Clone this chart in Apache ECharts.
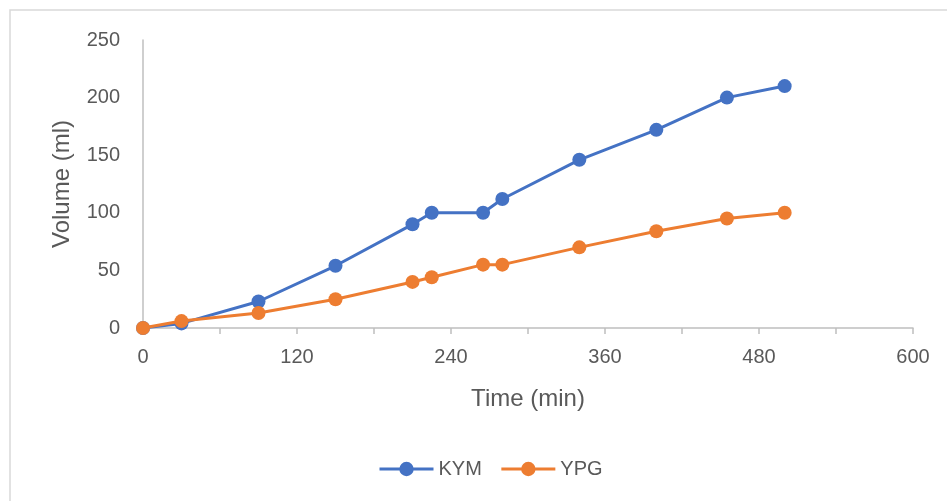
<!DOCTYPE html>
<html>
<head>
<meta charset="utf-8">
<script src="https://cdn.jsdelivr.net/npm/echarts@6/dist/echarts.min.js"></script>
<style>html,body{margin:0;padding:0;background:#fff}#c{width:947px;height:501px}</style>
</head>
<body>
<div id="c"></div>
<script>
const timeKYM = [0, 30, 90, 150, 210, 225, 265, 280, 340, 400, 455, 500];
const volKYM  = [0, 4, 23, 54, 90, 100, 100, 112, 146, 172, 200, 210];
const timeYPG = [0, 30, 90, 150, 210, 225, 265, 280, 340, 400, 455, 500];
const volYPG  = [0, 6, 13, 25, 40, 44, 55, 55, 70, 84, 95, 100];
const seriesNames = ['KYM', 'YPG'];
const xTicks = [0, 120, 240, 360, 480, 600];
const yTicks = [0, 50, 100, 150, 200, 250];

const font = 'Liberation Sans, sans-serif';
const txt = '#595959';
const pair = (xs, ys) => xs.map((x, i) => [x, ys[i]]);

const chart = echarts.init(document.getElementById('c'), null, {renderer: 'canvas'});
chart.setOption({
  animation: false,
  backgroundColor: '#fff',
  graphic: [{
    type: 'rect', shape: {x: 10, y: 10, width: 960, height: 520},
    style: {fill: 'none', stroke: '#d9d9d9', lineWidth: 1.5}, silent: true, z: -1
  }],
  grid: {left: 143, right: 34, top: 40, bottom: 173, containLabel: false},
  legend: {
    data: seriesNames, bottom: 17, left: 373, itemWidth: 54, itemHeight: 18, itemGap: 18,
    lineStyle: {width: 3},
    textStyle: {color: txt, fontFamily: font, fontSize: 20, padding: [0, 0, 0, 0]}
  },
  xAxis: {
    type: 'value', min: xTicks[0], max: xTicks[xTicks.length - 1], interval: 120,
    name: 'Time (min)', nameLocation: 'middle', nameGap: 59,
    nameTextStyle: {color: txt, fontFamily: font, fontSize: 24},
    axisLine: {show: true, lineStyle: {color: '#bfbfbf', width: 1.5}},
    axisTick: {show: true, length: 6, lineStyle: {color: '#bfbfbf', width: 1.5}},
    minorTick: {show: true, splitNumber: 2, length: 6, lineStyle: {color: '#bfbfbf', width: 1.5}},
    splitLine: {show: false},
    axisLabel: {color: txt, fontFamily: font, fontSize: 20, margin: 19}
  },
  yAxis: {
    type: 'value', min: yTicks[0], max: yTicks[yTicks.length - 1], interval: 50,
    name: 'Volume (ml)', nameLocation: 'middle', nameGap: 69, nameRotate: 90,
    nameTextStyle: {color: txt, fontFamily: font, fontSize: 24},
    axisLine: {show: true, lineStyle: {color: '#bfbfbf', width: 1.5}},
    axisTick: {show: false},
    splitLine: {show: false},
    axisLabel: {color: txt, fontFamily: font, fontSize: 20, margin: 23}
  },
  series: [
    {name: seriesNames[0], type: 'line', data: pair(timeKYM, volKYM), symbol: 'circle', symbolSize: 14,
     lineStyle: {color: '#4472C4', width: 3}, itemStyle: {color: '#4472C4'}, z: 2},
    {name: seriesNames[1], type: 'line', data: pair(timeYPG, volYPG), symbol: 'circle', symbolSize: 14,
     lineStyle: {color: '#ED7D31', width: 3}, itemStyle: {color: '#ED7D31'}, z: 3}
  ]
});
</script>
</body>
</html>
